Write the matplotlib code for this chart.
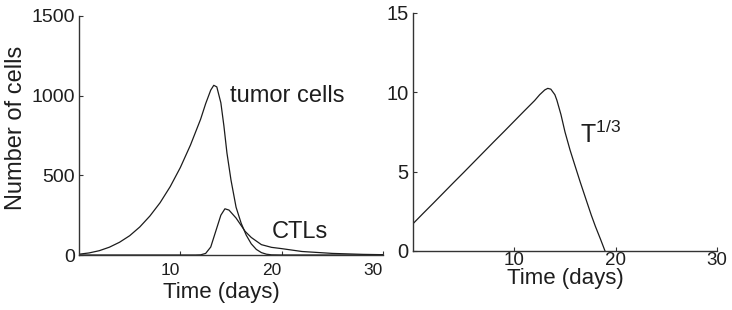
"""
Tumor cells / CTLs dynamics and cube-root of tumor size.
"""

import matplotlib.pyplot as plt
import matplotlib.transforms as mtransforms

# ---- left panel: cell counts ----
tumor_t = [0, 1, 2, 3, 4, 5, 6, 7, 8, 9, 10, 11, 12, 12.5, 13.0, 13.3, 13.6,
           14.0, 14.3, 14.6, 15.0, 15.5, 16.0, 16.5, 17.0, 17.5, 18.0, 18.5,
           19.0, 20.0, 30.0]
tumor_n = [5, 13, 27, 49, 80, 121, 176, 245, 328, 429, 549, 690, 852, 950,
           1035, 1065, 1055, 955, 810, 640, 470, 300, 200, 125, 70, 35, 15, 5,
           1, 0, 0]

ctl_t = [0, 11.5, 12.0, 12.5, 13.0, 13.5, 14.0, 14.4, 14.8, 15.5, 16.4, 17.0,
         18.0, 19.0, 20.0, 22.0, 25.0, 28.0, 30.0]
ctl_n = [0, 0, 1, 10, 50, 150, 250, 290, 282, 232, 148, 110, 65, 48, 40, 22,
         10, 4, 2]

# ---- right panel: T^(1/3) ----
cube_t = [0, 1, 2, 3, 4, 5, 6, 7, 8, 9, 10, 11, 12, 12.5, 13.0, 13.3, 13.6,
          14.0, 14.2, 14.6, 15.0, 15.5, 16.0, 16.5, 17.1, 17.6, 18.0, 18.5,
          18.95]
cube_v = [1.72, 2.37, 3.01, 3.66, 4.31, 4.95, 5.60, 6.25, 6.90, 7.54, 8.19,
          8.84, 9.48, 9.85, 10.15, 10.25, 10.2, 9.85, 9.5, 8.6, 7.5, 6.36,
          5.35, 4.35, 3.2, 2.25, 1.55, 0.75, 0]

left_yticks = [0, 500, 1000, 1500]
right_yticks = [0, 5, 10, 15]
xticks = [10, 20, 30]

plt.rcParams['font.family'] = ['Liberation Sans', 'DejaVu Sans']
plt.rcParams['mathtext.fontset'] = 'custom'
plt.rcParams['mathtext.rm'] = 'Liberation Sans'
plt.rcParams['mathtext.it'] = 'Liberation Sans'

line_c = '#1c1c1c'
axis_c = '#333333'
text_c = '#1e1e1e'

fig = plt.figure(figsize=(7.32, 3.10), dpi=100)
ax1 = fig.add_axes([79 / 732, 55 / 310, 304 / 732, 239 / 310])
ax2 = fig.add_axes([413 / 732, 59 / 310, 304 / 732, 238 / 310])


def style_axes(ax, xsize, ysize):
    for side in ['top', 'right']:
        ax.spines[side].set_visible(False)
    for side in ['left', 'bottom']:
        ax.spines[side].set_color(axis_c)
        ax.spines[side].set_linewidth(1.0)
    ax.tick_params(direction='in', length=3, width=0.8, colors=axis_c)
    ax.tick_params(axis='x', labelsize=xsize, labelcolor=text_c)
    ax.tick_params(axis='y', labelsize=ysize, labelcolor=text_c, pad=3)
    ax.set_xlim(0, 30)
    ax.set_xticks(xticks)


# left panel
ax1.plot(tumor_t, tumor_n, color=line_c, linewidth=0.9)
ax1.plot(ctl_t, ctl_n, color=line_c, linewidth=0.9)
style_axes(ax1, 12.5, 14)
ax1.tick_params(axis='x', pad=6)
ax1.set_ylim(0, 1500)
ax1.set_yticks(left_yticks)
# the bottom text row of the left panel sits ~10 px left of its ticks
shift = mtransforms.ScaledTranslation(-0.10, 0, fig.dpi_scale_trans)
for lab in ax1.get_xticklabels():
    lab.set_transform(lab.get_transform() + shift)
ax1.set_xlabel('Time (days)', fontsize=16, color=text_c)
ax1.xaxis.set_label_coords(0.467, -0.115)
ax1.set_ylabel('Number of cells', fontsize=17, color=text_c)
ax1.yaxis.set_label_coords(-0.17, 0.53)
ax1.text(14.9, 962, 'tumor cells', fontsize=17, color=text_c,
         ha='left', va='baseline')
ax1.text(19.05, 105, 'CTLs', fontsize=17, color=text_c,
         ha='left', va='baseline')

# right panel
ax2.plot(cube_t, cube_v, color=line_c, linewidth=0.9)
style_axes(ax2, 13.5, 14.5)
ax2.tick_params(axis='x', pad=0.5)
ax2.set_ylim(0, 15)
ax2.set_yticks(right_yticks)
ax2.set_xlabel('Time (days)', fontsize=16, color=text_c)
ax2.xaxis.set_label_coords(0.5, -0.072)
ax2.text(16.5, 6.8, r'T$^{1/3}$', fontsize=18, color=text_c,
         ha='left', va='baseline')

plt.savefig('out.png', dpi=100)
plt.close()
